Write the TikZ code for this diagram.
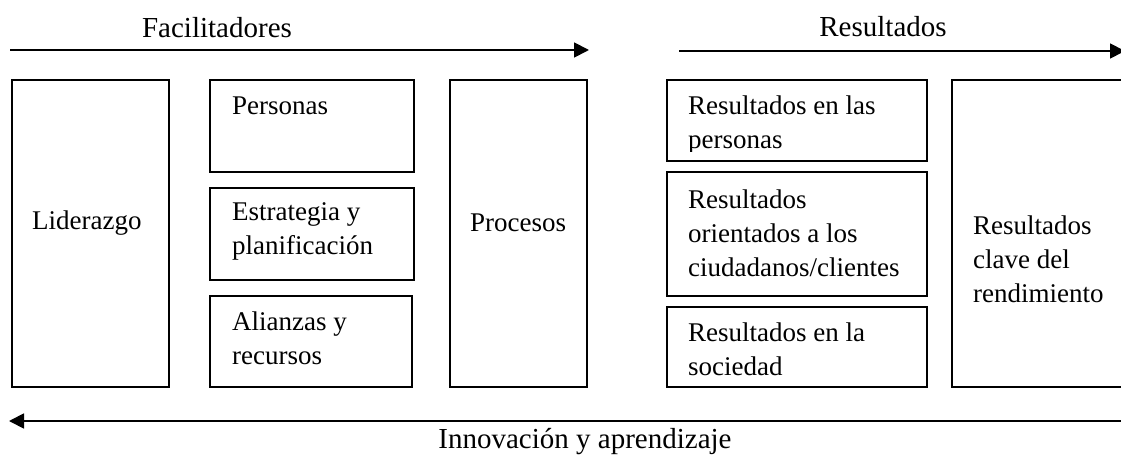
\documentclass[tikz,border=0pt]{standalone}
\usepackage{fontspec}
\setmainfont{Liberation Serif}
\usetikzlibrary{arrows.meta}
\begin{document}
\begin{tikzpicture}[x=1pt,y=-1pt,
  box/.style={draw, line width=1.6pt, inner sep=0pt},
  txt/.style={font=\fontsize{27}{34}\selectfont, align=left, inner sep=0pt, anchor=west},
  head/.style={font=\fontsize{29}{34}\selectfont, inner sep=0pt},
  flow/.style={line width=1.8pt, -{Triangle[length=15pt,width=15pt]}}]
\useasboundingbox (0,0) rectangle (1121,462);
\fill[white] (0,0) rectangle (1121,462);

% boxes
\node[box, minimum width=157pt, minimum height=307pt] (lid) at (90.5,233.5) {};
\node[box, minimum width=204pt, minimum height=92pt] (per) at (312,126) {};
\node[box, minimum width=204pt, minimum height=92pt] (est) at (312,234) {};
\node[box, minimum width=202pt, minimum height=91pt] (ali) at (311,341.5) {};
\node[box, minimum width=137pt, minimum height=307pt] (pro) at (518.5,233.5) {};
\node[box, minimum width=260pt, minimum height=81pt] (rp) at (797,120.5) {};
\node[box, minimum width=260pt, minimum height=124pt] (rc) at (797,234) {};
\node[box, minimum width=260pt, minimum height=80pt] (rs) at (797,347) {};
\node[box, minimum width=180pt, minimum height=307pt] (rk) at (1042,233.5) {};

% texts
\node[txt] (tlid) at (32,223) {Liderazgo};
\node[txt] (tper) at (232,106) {Personas};
\node[txt] (test) at (232,231) {Estrategia y\\planificación};
\node[txt] (tali) at (232,338) {Alianzas y\\recursos};
\node[txt] (tpro) at (470,223) {Procesos};
\begin{scope}
  \clip (668,81) rectangle (926,151.5);
  \node[txt] (trp) at (688,125) {Resultados en las\\personas};
\end{scope}
\node[txt] (trc) at (688,233) {Resultados\\orientados a los\\ciudadanos/clientes};
\node[txt] (trs) at (688,349) {Resultados en la\\sociedad};
\node[txt] (trk) at (973,259) {Resultados\\clave del\\rendimiento};

% headings
\node[head] (hfac) at (217,28) {Facilitadores};
\node[head] (hres) at (883,27) {Resultados};
\node[head] (hinn) at (585,442) {Innovación y aprendizaje};

% arrows
\coordinate (a1s) at (10,50);
\coordinate (a1e) at (589,50);
\coordinate (a2s) at (679,51);
\coordinate (a2e) at (1125,51);
\coordinate (a3s) at (1125,421);
\coordinate (a3e) at (9,421);
\draw[flow] (a1s) -- (a1e);
\draw[flow] (a2s) -- (a2e);
\draw[flow] (a3s) -- (a3e);
\end{tikzpicture}
\end{document}
